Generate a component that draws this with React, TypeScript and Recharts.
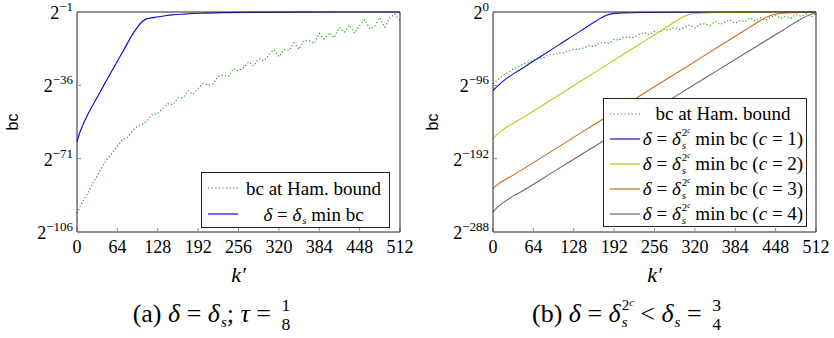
import { LineChart, Line, XAxis, YAxis, Legend } from 'recharts'

const SERIF = 'Liberation Serif, DejaVu Serif, serif'
const SANS = 'Liberation Sans, DejaVu Sans, sans-serif'

const kTicks = [0, 64, 128, 192, 256, 320, 384, 448, 512]
const yTicksA = [-106, -71, -36, -1]
const yTicksB = [-288, -192, -96, 0]

// exponents (log2 of bc), k' in steps of 8 for the Hamming-bound curves
const hamK = [
  0, 8, 16, 24, 32, 40, 48, 56, 64, 72, 80, 88, 96, 104, 112, 120, 128, 136, 144, 152, 160, 168, 176, 184,
  192, 200, 208, 216, 224, 232, 240, 248, 256, 264, 272, 280, 288, 296, 304, 312, 320, 328, 336, 344, 352,
  360, 368, 376, 384, 392, 400, 408, 416, 424, 432, 440, 448, 456, 464, 472, 480, 488, 496, 504, 512,
]

// (a)
const hamA = [
  -97, -91.85, -88.12, -83.26, -79.27, -74.91, -71.2, -68.18, -65.1, -61.78, -60.8, -57.68, -55.44, -54.64,
  -52.54, -49.8, -49.56, -47.1, -44.8, -45.2, -42.05, -42.0, -38.5, -40.15, -37.35, -35.1, -35.9, -35.3,
  -31.65, -31.0, -31.7, -28.0, -29.15, -27.6, -24.85, -26.7, -23.3, -24.25, -21.54, -19.0, -22.28, -18.96,
  -19.38, -15.74, -18.8, -14.48, -14.78, -15.96, -11.2, -13.92, -10.92, -13.2, -8.42, -10.64, -7.24, -11.12,
  -7.44, -4.7, -8.96, -7.62, -3.76, -8.3, -3.6, -2.0, -5.18,
]
const minK_A = [0, 3, 6, 10, 16, 24, 36, 48, 63, 76, 89, 96, 100, 105, 110, 118, 126, 140, 151, 170, 195, 230, 280, 350, 420, 512]
const minA = [
  -63, -59.8, -57.3, -54.4, -50.5, -46, -39.5, -33, -25, -18.1, -11.2, -8.2, -6.6, -5.2, -4.3, -3.8, -3.4,
  -2.8, -2.4, -2.0, -1.6, -1.3, -1.15, -1.05, -1.0, -1.0,
]

// (b)
const hamB = [
  -94, -88.24, -82.84, -79.36, -74.72, -71.58, -68.14, -66.2, -63.0, -60.74, -60.06, -56.0, -55.98, -53.28,
  -53.7, -50.76, -48.64, -48.94, -46.96, -43.9, -45.4, -41.0, -40.0, -40.8, -35.7, -36.8, -32.3, -33.3, -33.1,
  -29.0, -27.1, -29.6, -25.7, -26.3, -22.0, -23.7, -20.5, -22.7, -20.16, -16.92, -20.8, -15.84, -15.56,
  -17.62, -12.5, -16.48, -12.92, -10.66, -14.9, -11.08, -12.3, -7.7, -11.52, -7.54, -10.84, -6.86, -4.7,
  -8.36, -5.78, -8.4, -3.22, -5.58, -2.48, -6.5, -2.2,
]
const c1K = [0, 4, 8, 13, 20, 30, 43, 60, 80, 100, 120, 140, 160, 172, 180, 186, 194, 210, 240, 300, 400, 512]
const c1 = [
  -103, -99.5, -96.5, -92.5, -87.8, -82.3, -75.5, -66.5, -55.9, -45.3, -34.7, -24.1, -13.5, -7.5, -4.2, -2.8,
  -1.8, -1.1, -0.6, -0.3, -0.1, 0,
]
const c2K = [0, 4, 8, 13, 20, 30, 43, 80, 120, 160, 200, 240, 280, 296, 304, 312, 320, 340, 380, 440, 512]
const c2 = [
  -166, -162.5, -159.5, -156, -151.5, -146.5, -140.5, -121.3, -100.5, -79.7, -58.9, -38.1, -17.3, -9, -5.4,
  -3.2, -2.0, -1.1, -0.6, -0.3, 0,
]
const c3K = [0, 4, 8, 13, 20, 30, 43, 100, 160, 220, 280, 340, 400, 424, 436, 444, 452, 470, 500, 512]
const c3 = [
  -231, -228, -225.5, -222.5, -219, -214.5, -208, -178.5, -147.5, -116.5, -85.5, -54.5, -23.5, -11, -6, -3.6,
  -2.2, -1.0, -0.3, 0,
]
const c4K = [0, 4, 8, 13, 20, 30, 43, 100, 160, 220, 280, 340, 400, 460, 490, 504, 512]
const c4 = [-262, -258, -255, -251.5, -247.5, -242, -236, -207, -176.5, -145.5, -115, -84.5, -54, -23.5, -8.5, -3, -1]

const toRows = (ks: number[], vs: number[]) => ks.map((k, i) => ({ k, v: vs[i] }))

const GREEN = '#2a9a2a'
const BLUE = '#1010d0'
const YELLOW = '#c8c410'
const ORANGE = '#cc6a1a'
const GRAY = '#6a6a6a'

const XTick = (props: any) => {
  const { x, y, payload } = props
  return (
    <text x={x} y={y} dy={12} textAnchor="middle" fontFamily="Liberation Serif" style={{ fontFamily: SERIF, fontSize: 18 }} fill="#000">
      {payload.value}
    </text>
  )
}

const YTick = (props: any) => {
  const { x, y, payload } = props
  const v = payload.value
  return (
    <text x={x} y={y} dy={7} textAnchor="end" fontFamily="Liberation Serif" style={{ fontFamily: SERIF, fontSize: 18 }} fill="#000">
      2
      <tspan dy={-8} style={{ fontSize: 13 }}>
        {v < 0 ? `−${-v}` : `${v}`}
      </tspan>
    </text>
  )
}

const bcLabel = (props: any) => {
  const { viewBox } = props
  const cy = viewBox.y + viewBox.height / 2
  return (
    <text transform={`translate(18, ${cy}) rotate(-90)`} textAnchor="middle" style={{ fontFamily: SANS, fontSize: 16 }} fill="#000">
      bc
    </text>
  )
}

const kLabel = (props: any) => {
  const { viewBox } = props
  return (
    <text
      x={viewBox.x + viewBox.width / 2}
      y={282}
      textAnchor="middle"
      fontFamily="Liberation Serif"
      style={{ fontFamily: SERIF, fontSize: 22, fontStyle: 'italic' }}
      fill="#000"
    >
      k′
    </text>
  )
}

const Sample = ({ color, dotted }: { color: string; dotted?: boolean }) => (
  <svg width={30} height={4} style={{ marginLeft: 6, flex: 'none' }}>
    <line x1={0} y1={2} x2={30} y2={2} stroke={color} strokeWidth={1.2} strokeDasharray={dotted ? '1.2 2.4' : undefined} />
  </svg>
)

// δ with subscript s, optionally with superscript 2^c stacked above the s
// (relative offsets so the line boxes stay the same height)
const DeltaS = ({ size, pow }: { size: number; pow?: boolean }) => {
  const ss = 0.58 * size
  const sw = 0.39 * ss
  return (
    <span>
      <i>δ</i>
      <i style={{ fontSize: ss, position: 'relative', top: 0.19 * size, marginLeft: 1 }}>s</i>
      {pow && (
        <span style={{ fontSize: ss, position: 'relative', top: -0.47 * size, marginLeft: -sw }}>
          2<i style={{ fontSize: 0.4 * size, position: 'relative', top: -0.17 * size }}>c</i>
        </span>
      )}
    </span>
  )
}

const Row = ({ children, h }: { children: any; h: number }) => (
  <div style={{ display: 'flex', alignItems: 'center', height: h }}>{children}</div>
)

const legendBox = (w: number, h: number) => ({
  width: w,
  height: h,
  boxSizing: 'border-box' as const,
  border: '1px solid #222',
  background: '#fff',
  paddingTop: 2,
  fontFamily: SERIF,
  fontSize: 19,
  color: '#000',
  lineHeight: 1,
})

const LegendA = () => (
  <div style={legendBox(189, 56)}>
    <Row h={26}>
      <Sample color={GREEN} dotted />
      <div style={{ flex: 1, textAlign: 'center' }}>bc at Ham. bound</div>
    </Row>
    <Row h={26}>
      <Sample color={BLUE} />
      <div style={{ flex: 1, textAlign: 'center' }}>
        <i>δ</i> = <DeltaS size={19} /> min bc
      </div>
    </Row>
  </div>
)

const cLabels = ['1', '2', '3', '4']
const cColors = [BLUE, YELLOW, ORANGE, GRAY]

const LegendB = () => (
  <div style={legendBox(204, 129)}>
    <Row h={25}>
      <Sample color={GREEN} dotted />
      <div style={{ flex: 1, textAlign: 'center' }}>bc at Ham. bound</div>
    </Row>
    {cLabels.map((c, i) => (
      <Row h={25} key={c}>
        <Sample color={cColors[i]} />
        <div style={{ flex: 1, textAlign: 'center', whiteSpace: 'nowrap' }}>
          <i>δ</i> = <DeltaS size={19} pow /> min bc (<i>c</i> = {c})
        </div>
      </Row>
    ))}
  </div>
)

const Frac = ({ n, d }: { n: string; d: string }) => (
  <span
    style={{
      display: 'inline-block',
      verticalAlign: '-0.45em',
      fontSize: '0.68em',
      lineHeight: 1.08,
      textAlign: 'center',
      marginLeft: 3,
    }}
  >
    <span style={{ display: 'block', padding: '0 1px' }}>{n}</span>
    <span style={{ display: 'block' }}>{d}</span>
  </span>
)

const caption = {
  position: 'absolute' as const,
  top: 296,
  textAlign: 'center' as const,
  fontFamily: SERIF,
  fontSize: 26,
  color: '#000',
  whiteSpace: 'nowrap' as const,
}

const axisStroke = { stroke: '#222', strokeWidth: 1 }
const tickStroke = { stroke: '#888', strokeWidth: 1 }

export default function App() {
  return (
    <div style={{ position: 'absolute', left: 0, top: 0, width: 834, height: 338, background: '#fff', overflow: 'hidden' }}>
      <div style={{ position: 'absolute', left: 0, top: 0 }}>
        <LineChart width={420} height={300} margin={{ top: 11, right: 19, left: 0, bottom: 0 }}>
          <XAxis
            dataKey="k"
            type="number"
            domain={[0, 512]}
            ticks={kTicks}
            height={68}
            tickSize={-4}
            tickMargin={13}
            tick={<XTick />}
            axisLine={axisStroke}
            tickLine={tickStroke}
            label={{ content: kLabel }}
          />
          <XAxis xAxisId="top" orientation="top" type="number" domain={[0, 512]} ticks={kTicks} height={1} tickSize={-4} tickFormatter={() => ''} axisLine={axisStroke} tickLine={tickStroke} />
          <YAxis
            type="number"
            domain={[-106, -1]}
            ticks={yTicksA}
            width={77}
            tickSize={-4}
            tickMargin={8}
            tick={<YTick />}
            axisLine={axisStroke}
            tickLine={tickStroke}
            label={{ content: bcLabel }}
          />
          <YAxis yAxisId="right" orientation="right" type="number" domain={[-106, -1]} ticks={yTicksA} width={1} tickSize={-4} tickFormatter={() => ''} axisLine={axisStroke} tickLine={tickStroke} />
          <Line data={toRows(hamK, hamA)} dataKey="v" type="linear" stroke={GREEN} strokeWidth={1.2} strokeDasharray="1.2 2.2" dot={false} isAnimationActive={false} />
          <Line data={toRows(minK_A, minA)} dataKey="v" type="monotone" stroke={BLUE} strokeWidth={1.2} dot={false} isAnimationActive={false} />
          <Legend layout="vertical" align="center" verticalAlign="middle" wrapperStyle={{ left: 201, top: 172, width: 189 }} content={LegendA} />
        </LineChart>
        <div style={{ ...caption, left: 0, width: 424 }}>
          (a) <i>δ</i> = <DeltaS size={26} />; <i>τ</i> = <Frac n="1" d="8" />
        </div>
      </div>
      <div style={{ position: 'absolute', left: 420, top: 0 }}>
        <LineChart width={414} height={300} margin={{ top: 11, right: 17, left: 0, bottom: 0 }}>
          <XAxis
            dataKey="k"
            type="number"
            domain={[0, 512]}
            ticks={kTicks}
            height={68}
            tickSize={-4}
            tickMargin={13}
            tick={<XTick />}
            axisLine={axisStroke}
            tickLine={tickStroke}
            label={{ content: kLabel }}
          />
          <XAxis xAxisId="top" orientation="top" type="number" domain={[0, 512]} ticks={kTicks} height={1} tickSize={-4} tickFormatter={() => ''} axisLine={axisStroke} tickLine={tickStroke} />
          <YAxis
            type="number"
            domain={[-288, 0]}
            ticks={yTicksB}
            width={73}
            tickSize={-4}
            tickMargin={8}
            tick={<YTick />}
            axisLine={axisStroke}
            tickLine={tickStroke}
            label={{ content: bcLabel }}
          />
          <YAxis yAxisId="right" orientation="right" type="number" domain={[-288, 0]} ticks={yTicksB} width={1} tickSize={-4} tickFormatter={() => ''} axisLine={axisStroke} tickLine={tickStroke} />
          <Line data={toRows(hamK, hamB)} dataKey="v" type="linear" stroke={GREEN} strokeWidth={1.2} strokeDasharray="1.2 2.2" dot={false} isAnimationActive={false} />
          <Line data={toRows(c1K, c1)} dataKey="v" type="monotone" stroke={BLUE} strokeWidth={1.1} dot={false} isAnimationActive={false} />
          <Line data={toRows(c2K, c2)} dataKey="v" type="monotone" stroke={YELLOW} strokeWidth={1.1} dot={false} isAnimationActive={false} />
          <Line data={toRows(c3K, c3)} dataKey="v" type="monotone" stroke={ORANGE} strokeWidth={1.1} dot={false} isAnimationActive={false} />
          <Line data={toRows(c4K, c4)} dataKey="v" type="monotone" stroke={GRAY} strokeWidth={1.1} dot={false} isAnimationActive={false} />
          <Legend layout="vertical" align="center" verticalAlign="middle" wrapperStyle={{ left: 183, top: 98, width: 204 }} content={LegendB} />
        </LineChart>
        <div style={{ ...caption, left: 0, width: 414 }}>
          (b) <i>δ</i> = <DeltaS size={26} pow /> &lt; <DeltaS size={26} /> = <Frac n="3" d="4" />
        </div>
      </div>
    </div>
  )
}
